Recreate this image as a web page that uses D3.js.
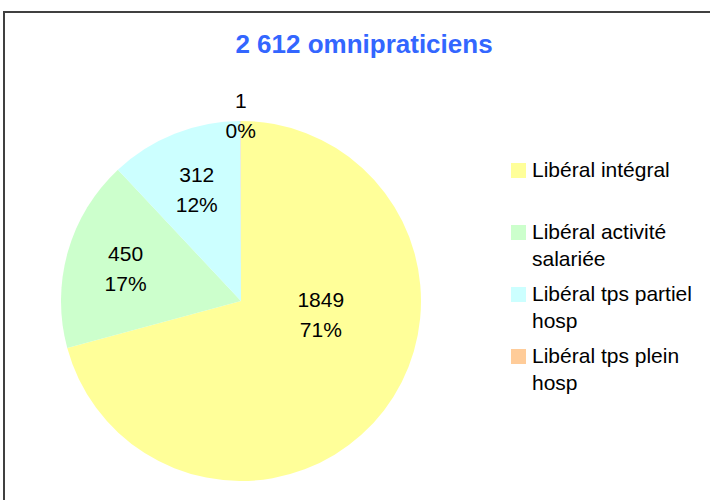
<!DOCTYPE html>
<html>
<head>
<meta charset="utf-8">
<script src="https://cdn.jsdelivr.net/npm/d3@7"></script>
<style>
  body { margin: 0; background: #fff; }
  svg { font-family: "Liberation Sans", Arial, sans-serif; }
</style>
</head>
<body>
<svg width="710" height="500"></svg>
<script>
// chart data
var title = "2 612 omnipraticiens";
var categories = ["Libéral intégral", "Libéral activité salariée", "Libéral tps partiel hosp", "Libéral tps plein hosp"];
var legendLines = [["Libéral intégral"], ["Libéral activité", "salariée"], ["Libéral tps partiel", "hosp"], ["Libéral tps plein", "hosp"]];
var values = [1849, 450, 312, 1];
var colors = ["#FFFF99", "#CCFFCC", "#CCFFFF", "#FFCC99"];

function main(){
    var svg = d3.select("svg"),
        cx = 241, cy = 301, radius = 180;

    // frame
    svg.append("rect")
        .attr("x", 4).attr("y", 12)
        .attr("width", 760).attr("height", 560)
        .attr("fill", "none")
        .attr("stroke", "#404040")
        .attr("stroke-width", 2);

    svg.append("text")
        .attr("x", 364).attr("y", 53)
        .attr("text-anchor", "middle")
        .attr("font-size", 26)
        .attr("font-weight", "bold")
        .attr("fill", "#3366FF")
        .text(title);

    var total = d3.sum(values);
    var color = d3.scaleOrdinal().domain(categories).range(colors);

    var pie = d3.pie().sort(null).value(function(d){ return d; });
    var arcs = pie(values);
    var arc = d3.arc().innerRadius(0).outerRadius(radius);
    var labelArc = d3.arc().innerRadius(120).outerRadius(120);

    var g = svg.append("g").attr("transform", "translate(" + cx + "," + cy + ")");

    g.selectAll(".slice")
        .data(arcs)
        .enter().append("path")
        .attr("class", "slice")
        .attr("d", arc)
        .attr("fill", function(d, i){ return color(categories[i]); });

    // label block centre for each slice
    function labelPos(d){
        var frac = d.value / total;
        if (frac < 0.02) {
            var a = (d.startAngle + d.endAngle) / 2;
            return [Math.sin(a) * 186, -Math.cos(a) * 186];
        }
        if (frac > 0.5) {
            // large slice: label sits nearer the centre, like the spreadsheet's best fit
            var b = Math.PI * 0.555;
            return [Math.sin(b) * 81, -Math.cos(b) * 81];
        }
        return labelArc.centroid(d);
    }

    var labels = g.selectAll(".lbl")
        .data(arcs)
        .enter().append("text")
        .attr("class", "lbl")
        .attr("text-anchor", "middle")
        .attr("font-size", 21)
        .attr("fill", "#000")
        .attr("transform", function(d){
            var p = labelPos(d);
            return "translate(" + p[0] + "," + p[1] + ")";
        });

    labels.append("tspan").attr("x", 0).attr("y", -7.5)
        .text(function(d){ return d.value; });
    labels.append("tspan").attr("x", 0).attr("y", 22.5)
        .text(function(d){ return Math.round(d.value / total * 100) + "%"; });

    // legend
    var legend = svg.append("g").attr("transform", "translate(511,177)");
    var items = legend.selectAll(".item")
        .data(categories)
        .enter().append("g")
        .attr("class", "item")
        .attr("transform", function(d, i){ return "translate(0," + (i * 62) + ")"; });

    items.append("rect")
        .attr("x", 0).attr("y", -14)
        .attr("width", 15).attr("height", 15)
        .attr("fill", function(d){ return color(d); });

    items.append("text")
        .attr("font-size", 21)
        .attr("fill", "#000")
        .selectAll("tspan")
        .data(function(d, i){ return legendLines[i]; })
        .enter().append("tspan")
        .attr("x", 21)
        .attr("y", function(d, j){ return j * 27; })
        .text(function(d){ return d; });
}
main();
</script>
</body>
</html>
